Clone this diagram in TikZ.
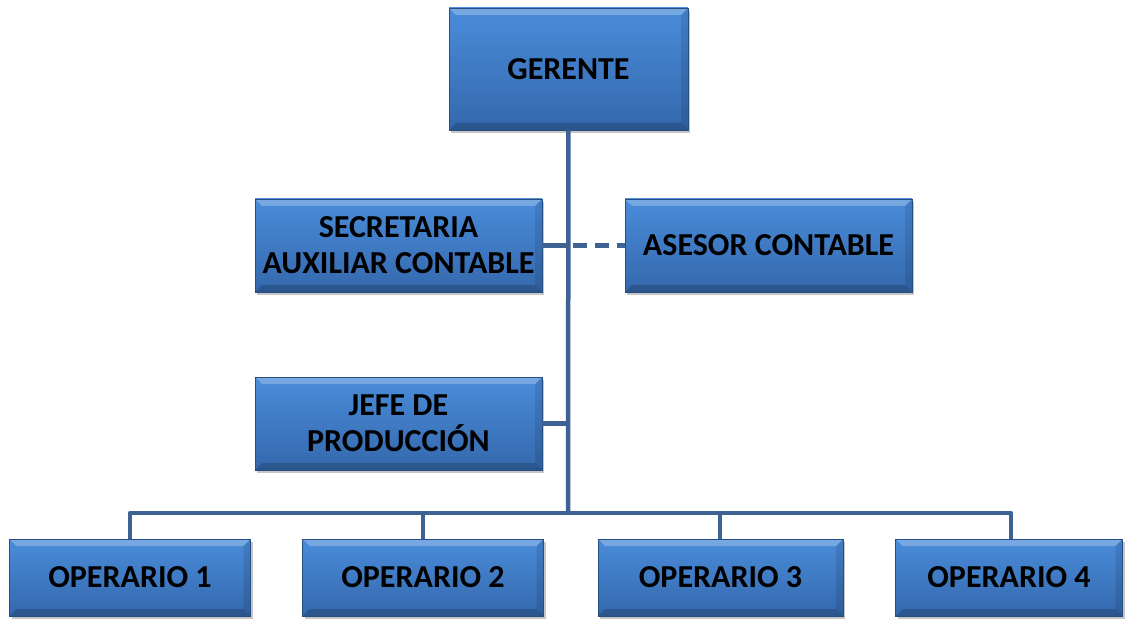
\documentclass[tikz,border=0pt]{standalone}
\usepackage{fontspec}
\setmainfont{Carlito}
\usepackage{tikz}
\usetikzlibrary{shadows}

\definecolor{boxtop}{RGB}{74,140,218}
\definecolor{boxbot}{RGB}{52,104,172}
\definecolor{boxline}{RGB}{38,78,130}
\definecolor{linkcol}{RGB}{62,98,148}

\begin{document}
\begin{tikzpicture}[x=1pt, y=-1pt,
  every post/.style={draw=boxline, line width=0.8pt, top color=boxtop, bottom color=boxbot,
    inner sep=0pt, align=center, font=\fontsize{32}{36}\selectfont\bfseries,
    drop shadow={opacity=0.45, shadow xshift=2pt, shadow yshift=-3pt},
    path picture={
      \fill [white, opacity=0.25] (path picture bounding box.north west)
        -- ([xshift=-7pt,yshift=-7pt]path picture bounding box.north east)
        -- ([xshift=7pt,yshift=-7pt]path picture bounding box.north west) -- cycle
        (path picture bounding box.north west) -- (path picture bounding box.north east)
        -- ([xshift=-7pt,yshift=-7pt]path picture bounding box.north east) -- cycle;
      \fill [black, opacity=0.18] (path picture bounding box.south west)
        -- ([xshift=7pt,yshift=7pt]path picture bounding box.south west)
        -- ([xshift=-7pt,yshift=7pt]path picture bounding box.south east)
        -- (path picture bounding box.south east) -- cycle;
      \fill [black, opacity=0.1] (path picture bounding box.north east)
        -- ([xshift=-7pt,yshift=-7pt]path picture bounding box.north east)
        -- ([xshift=-7pt,yshift=7pt]path picture bounding box.south east)
        -- (path picture bounding box.south east) -- cycle;}},
  wide post/.style={minimum width=287pt, minimum height=93pt},
  op post/.style={minimum width=243pt, minimum height=77pt},
  link/.style={draw=linkcol, line width=4.5pt, line join=round}]

\useasboundingbox (0,0) rectangle (1126,620);

\node [every post, minimum width=239pt, minimum height=122pt] (gerente) at (568.5,69) {GERENTE};

\node [every post, wide post] (secretaria) at (398.5,245.5) {SECRETARIA\\AUXILIAR CONTABLE};
\node [every post, wide post] (asesor) at (768.5,245.5) {ASESOR CONTABLE};
\node [every post, wide post] (jefe) at (398.5,423.5) {JEFE DE\\PRODUCCIÓN};

\foreach \x/\w [count=\i] in {130/241,423/241,720.5/245,1009/227}
  \node [every post, op post, minimum width=\w pt] (op-\i) at (\x,577.5) {OPERARIO \i};

\coordinate (bus) at (568,513);

\draw [link] (gerente) -- (bus);
\foreach \x [count=\i] in {130,423,720,1011}
  \draw [link] (bus) -| (\x,513) -- (op-\i.north -| \x,0);

\draw [link] (secretaria.east) -- (secretaria.east -| gerente);
\draw [link, dash pattern=on 14pt off 8pt] (secretaria.east -| gerente) ++(4,0) -- (asesor.west);
\draw [link] (jefe.east) -- (jefe.east -| gerente);
\end{tikzpicture}
\end{document}
